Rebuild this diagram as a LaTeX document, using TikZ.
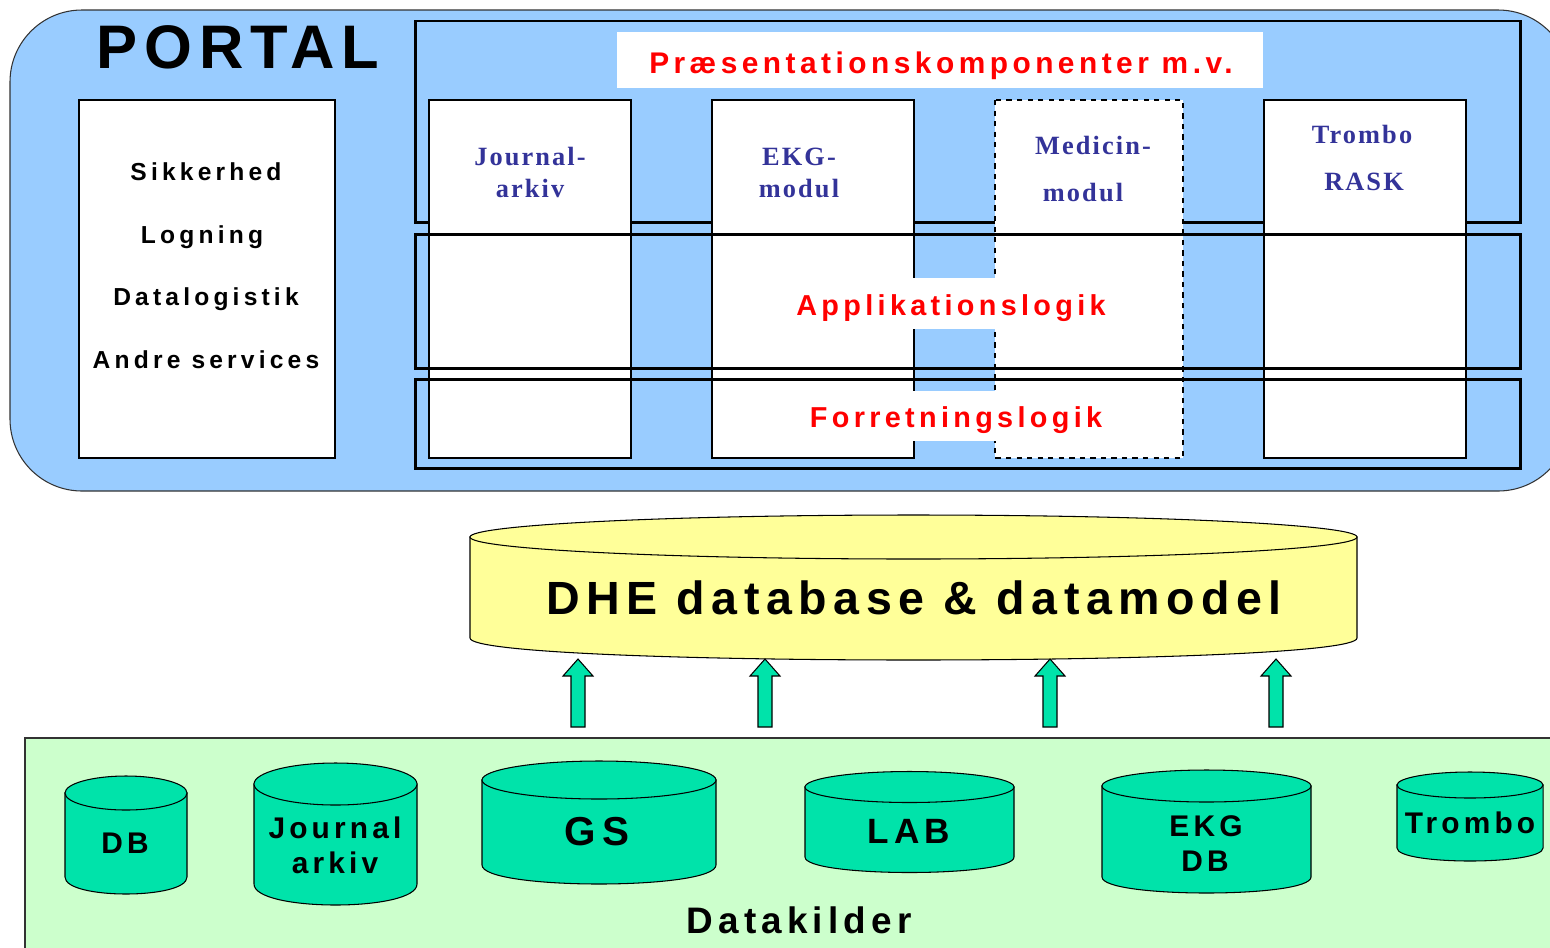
\documentclass[tikz,border=0pt]{standalone}
\usepackage{fontspec}
\setmainfont{Liberation Sans}
\newfontfamily\portalfont[LetterSpace=11]{Liberation Sans}
\newfontfamily\servicefont[LetterSpace=17]{Liberation Sans}
\newfontfamily\layerfont[LetterSpace=15]{Liberation Sans}
\newfontfamily\sourcefont[LetterSpace=14]{Liberation Sans}
\newfontfamily\modulefont[LetterSpace=8]{Liberation Serif}

\definecolor{portalblue}{HTML}{99CCFF}
\definecolor{dheyellow}{HTML}{FFFF99}
\definecolor{sourcegreen}{HTML}{CCFFCC}
\definecolor{drumteal}{HTML}{00E3AA}
\definecolor{layerred}{HTML}{FF0000}
\definecolor{modulenavy}{HTML}{333399}

% cylinder: name, left, right, top centre, bottom centre, y radius, fill
\newcommand{\drum}[7]{%
  \filldraw[fill=#7, line width=0.6pt] (#2,#4) -- (#2,#5)
    .. controls (#2,#5+1.333*#6) and (#3,#5+1.333*#6) .. (#3,#5) -- (#3,#4) -- cycle;
  \filldraw[fill=#7, line width=0.6pt] ({(#2+#3)/2},#4) ellipse [x radius={(#3-#2)/2}, y radius=#6];
  \coordinate (#1) at ({(#2+#3)/2},#5);
}
% block arrow up to the DHE drum
\newcommand{\feed}[2]{%
  \coordinate (#1) at (#2,727);
  \filldraw[fill=drumteal, line width=0.6pt] (#1) ++(-7,0) -- ++(0,-51) -- ++(-8,0)
    -- (#2,659) -- ++(15,17) -- ++(-8,0) -- ++(0,51) -- cycle;
}

\tikzset{
  frame/.style={draw=black, line width=1.7pt},
  module/.style={draw=black, fill=white, line width=0.6pt},
  service/.style={anchor=base, font=\fontsize{14}{17}\selectfont\servicefont\bfseries},
  layer/.style={anchor=base, text=layerred, font=\fontsize{16.4}{19}\selectfont\layerfont\bfseries},
  modtext/.style={anchor=base, text=modulenavy, font=\fontsize{15}{18}\selectfont\modulefont\bfseries},
  srctext/.style={anchor=base, font=\fontsize{17}{20}\selectfont\sourcefont\bfseries},
}

\begin{document}
\begin{tikzpicture}[x=0.02cm, y=-0.02cm]
	\useasboundingbox (0,0) rectangle (1550,947);
	\clip (0,0) rectangle (1550,947);

	% portal
	\filldraw[fill=portalblue, draw=black!80, line width=0.6pt, rounded corners=1.44cm] (10,10) rectangle (1570,491);
	\node[anchor=base, font=\fontsize{35}{40}\selectfont\portalfont\bfseries] (portal) at (238,68) {PORTAL};

	\filldraw[module] (79,100) rectangle (335,458);
	\node[service] (sik) at (206,180) {Sikkerhed};
	\node[service] (log) at (202,243) {Logning};
	\node[service] (dlog) at (206,305) {Datalogistik};
	\node[service] (andre) at (206,368) {Andre services};

	\draw[frame] (415,21) rectangle (1520,222);

	\filldraw[module] (429,100) rectangle (631,458);
	\filldraw[module] (712,100) rectangle (914,458);
	\filldraw[module, dashed] (995,100) rectangle (1183,458);
	\filldraw[module] (1264,100) rectangle (1466,458);

	\draw[frame] (415,234) rectangle (1520,368);
	\draw[frame] (415,379) rectangle (1520,468);

	% layers
	\fill[white] (617,32) rectangle (1263,88);
	\node[layer, font=\fontsize{17}{20}\selectfont\layerfont\bfseries] (praes) at (941,73) {Præsentationskomponenter m.v.};
	\fill[white] (786,278) rectangle (1114,329);
	\node[layer] (appl) at (951,315) {Applikationslogik};
	\fill[white] (798,391) rectangle (1112,441);
	\node[layer] (forr) at (956,427) {Forretningslogik};

	% modules
	\node[modtext] (jour1) at (530,165) {Journal-};
	\node[modtext] (jour2) at (530,197) {arkiv};
	\node[modtext] (ekg1) at (799,165) {EKG-};
	\node[modtext] (ekg2) at (799,197) {modul};
	\node[modtext] (med1) at (1093,154) {Medicin-};
	\node[modtext] (med2) at (1083,201) {modul};
	\node[modtext] (trom1) at (1362,143) {Trombo};
	\node[modtext] (trom2) at (1364,190) {RASK};

	% DHE database
	\drum{dhe}{470}{1357}{537}{638}{22}{dheyellow}
	\node[anchor=base, font=\fontsize{26.5}{31}\selectfont\sourcefont\bfseries] (dhetext) at (914,614) {DHE database \& datamodel};

	% data sources
	\filldraw[fill=sourcegreen, draw=black!80, line width=0.6pt] (25,738) rectangle (1570,960);
	\feed{a1}{578}
	\feed{a2}{765}
	\feed{a3}{1050}
	\feed{a4}{1276}

	\drum{db}{65}{187}{793}{877}{17}{drumteal}
	\drum{jarkiv}{254}{417}{784}{884}{21}{drumteal}
	\drum{gs}{482}{716}{780}{865}{19}{drumteal}
	\drum{lab}{805}{1014}{787}{857}{15.5}{drumteal}
	\drum{ekgdb}{1102}{1311}{786}{877}{16}{drumteal}
	\drum{trombo}{1397}{1543}{785}{848}{13}{drumteal}

	\node[srctext] (dbtext) at (125,853) {DB};
	\node[srctext] (jtext1) at (335,838) {Journal};
	\node[srctext] (jtext2) at (335,873) {arkiv};
	\node[srctext, font=\fontsize{23}{27}\selectfont\sourcefont\bfseries] (gstext) at (597,845) {GS};
	\node[srctext, font=\fontsize{20}{24}\selectfont\sourcefont\bfseries] (labtext) at (909,843) {LAB};
	\node[srctext] (etext1) at (1206,836) {EKG};
	\node[srctext] (etext2) at (1205,871) {DB};
	\node[srctext] (ttext) at (1470,833) {Trombo};
	\node[srctext, font=\fontsize{21}{25}\selectfont\sourcefont\bfseries] (kilder) at (799,933) {Datakilder};
\end{tikzpicture}
\end{document}
